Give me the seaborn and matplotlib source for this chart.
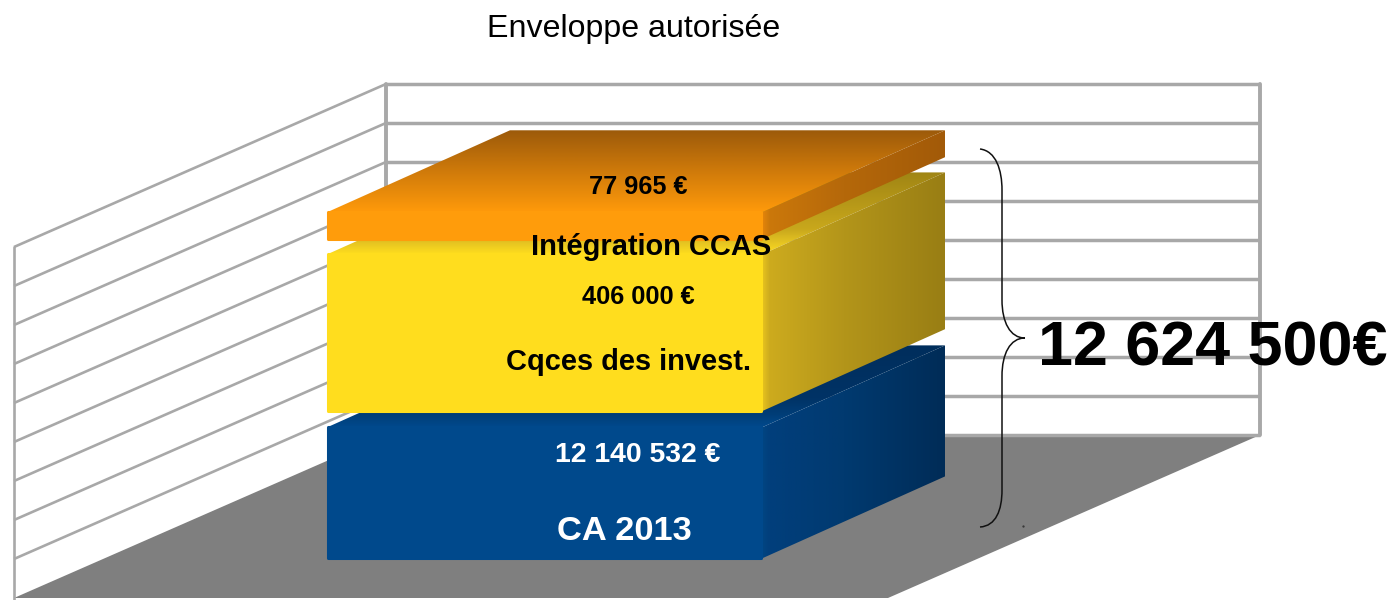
import numpy as np
import pandas as pd
import matplotlib.pyplot as plt
from matplotlib.colors import LinearSegmentedColormap
from matplotlib.patches import PathPatch, Polygon
from matplotlib.path import Path
import seaborn as sns

title = 'Enveloppe autorisée'
stack_name = 'Enveloppe'
block_names = ['CA 2013', 'Cqces des invest.', 'Intégration CCAS']
block_amounts = [12140532, 406000, 77965]
# hauteurs, en pas de grille (pas proportionnelles aux montants)
block_heights = [3.36, 4.02, 0.69]
block_gaps = [1.015, 0.415, 0.39]
total_label = '12 624 500€'
grid_levels = list(range(10))

sns.set_theme(style='white')
plt.rcParams['font.family'] = ['Liberation Sans', 'DejaVu Sans']

W, H = 1392, 600
BAR_PX = 435
BAR_CX = 544.5
STEP_PX = 39.0
FRONT_PX = 598


def ux(px):
    return (px - BAR_CX) / BAR_PX


def uy(py):
    return (FRONT_PX - py) / STEP_PX


def pt(px, py):
    return ux(px), uy(py)


fig, ax = plt.subplots(figsize=(W / 100, H / 100), dpi=100)
fig.subplots_adjust(0, 0, 1, 1)

# le décor : sol, mur du fond, mur de gauche
ROOM_DX = ux(386) - ux(14)
ROOM_DY = uy(435) - uy(598)
left, right = ux(14), ux(888)
ax.fill([left, left + ROOM_DX, right + ROOM_DX, right],
        [0, ROOM_DY, ROOM_DY, 0], color='#7f7f7f', lw=0, zorder=1)
grid_col = '#a8a8a8'
for lev in grid_levels:
    if lev > 0:
        ax.plot([left, left + ROOM_DX], [lev, lev + ROOM_DY], color=grid_col, lw=1.9, zorder=2,
                solid_capstyle='butt')
    ax.plot([left + ROOM_DX, right + ROOM_DX], [lev + ROOM_DY, lev + ROOM_DY], color=grid_col,
            lw=2.5, zorder=2, solid_capstyle='butt')
top = grid_levels[-1]
ax.plot([left, left], [-1, top], color=grid_col, lw=1.9, zorder=2)
ax.plot([left + ROOM_DX] * 2, [ROOM_DY, top + ROOM_DY], color=grid_col, lw=2.8, zorder=2)
ax.plot([right + ROOM_DX] * 2, [ROOM_DY, top + ROOM_DY], color=grid_col, lw=2.8, zorder=2)


def gradient_face(points, colors, vertical, z):
    xs, ys = zip(*points)
    cmap = LinearSegmentedColormap.from_list('f', colors)
    ramp = np.linspace(0, 1, 256)
    arr = ramp[:, None] if vertical else ramp[None, :]
    im = ax.imshow(arr, cmap=cmap, extent=(min(xs), max(xs), min(ys), max(ys)), origin='lower',
                   aspect='auto', zorder=z, interpolation='bilinear')
    clip = Polygon(points, closed=True, transform=ax.transData)
    im.set_clip_path(clip)


# les trois pavés
DX = 183 / BAR_PX
DY = 82 / STEP_PX
front_colors = ['#00498c', '#ffdd1e', '#ff9c0b']
side_colors = [[(0, '#014582'), (0.04, '#013f7c'), (0.45, '#013a70'), (1, '#002c57')],
               [(0, '#e8c41e'), (0.04, '#cdab1e'), (0.45, '#b3951a'), (1, '#997e14')],
               [(0, '#e5860a'), (0.04, '#cb780a'), (0.45, '#b5680a'), (1, '#a25a08')]]
top_colors = [[(0, '#00498c'), (0.15, '#003e78'), (0.35, '#003366'), (1, '#002e5c')],
              [(0, '#ffdd1e'), (0.15, '#e3c222'), (0.3, '#c9a81c'), (1, '#a08514')],
              [(0, '#ff9a0b'), (0.5, '#cf7a0a'), (1, '#9c5a0a')]]

blocks = pd.DataFrame({'poste': block_names, 'montant': block_amounts,
                       'hauteur': block_heights, 'ecart': block_gaps})
base = 0
z = 3
for i, row in blocks.iterrows():
    bottom = base + row['ecart']
    height = row['hauteur']
    upper = bottom + height
    base = upper
    x0, x1 = -0.5, 0.5
    gradient_face([(x0, upper), (x1, upper), (x1 + DX, upper + DY), (x0 + DX, upper + DY)],
                  top_colors[i], True, z)
    gradient_face([(x1, bottom), (x1, upper), (x1 + DX, upper + DY), (x1 + DX, bottom + DY)],
                  side_colors[i], False, z + 0.1)
    n_before = len(ax.patches)
    sns.barplot(x=[stack_name], y=[height], bottom=bottom, width=0.995, color=front_colors[i],
                saturation=1, ax=ax, zorder=z + 0.2, linewidth=0)
    for bar in ax.patches[n_before:]:
        bar.set_edgecolor(front_colors[i])
        bar.set_linewidth(2.2)
        bar.set_joinstyle('round')
    z += 1


def money(v):
    return f'{v:,}'.replace(',', ' ') + ' €'


text_z = 10
ax.text(*pt(634, 29), title, fontsize=23.1, ha='center', va='center', color='black', zorder=text_z)
ax.text(*pt(638, 187), money(block_amounts[2]), fontsize=18.2, fontweight='bold', ha='center',
        va='center', color='black', zorder=text_z)
ax.text(*pt(651, 247), block_names[2], fontsize=20.9, fontweight='bold', ha='center', va='center',
        color='black', zorder=text_z)
ax.text(*pt(638, 297), money(block_amounts[1]), fontsize=18.3, fontweight='bold', ha='center',
        va='center', color='black', zorder=text_z)
ax.text(*pt(629, 362), block_names[1], fontsize=20.9, fontweight='bold', ha='center', va='center',
        color='black', zorder=text_z)
ax.text(*pt(638, 455), money(block_amounts[0]), fontsize=20.4, fontweight='bold', ha='center',
        va='center', color='white', zorder=text_z)
ax.text(*pt(624, 531), block_names[0], fontsize=24.8, fontweight='bold', ha='center', va='center',
        color='white', zorder=text_z)
ax.text(*pt(1213, 349), total_label, fontsize=45.3, fontweight='bold', ha='center', va='center',
        color='black', zorder=text_z)

# accolade
brace = [pt(980, 149), pt(996, 151), pt(1002, 170), pt(1002, 190),
         pt(1002, 300), pt(1002, 322), pt(1010, 338), pt(1025, 338),
         pt(1010, 338), pt(1002, 354), pt(1002, 376),
         pt(1002, 490), pt(1002, 510), pt(996, 526), pt(980, 527)]
codes = [Path.MOVETO, Path.CURVE4, Path.CURVE4, Path.CURVE4,
         Path.LINETO, Path.CURVE4, Path.CURVE4, Path.CURVE4,
         Path.CURVE4, Path.CURVE4, Path.CURVE4,
         Path.LINETO, Path.CURVE4, Path.CURVE4, Path.CURVE4]
ax.add_patch(PathPatch(Path(brace, codes), fc='none', ec='#111111', lw=1.1, zorder=9))
ax.plot(*pt(1023, 526), marker='.', ms=1.2, color='#333333', zorder=9)

ax.set_xlim(ux(0), ux(W))
ax.set_ylim(uy(H), uy(0))
ax.axis('off')

plt.savefig('out.png', dpi=100)
